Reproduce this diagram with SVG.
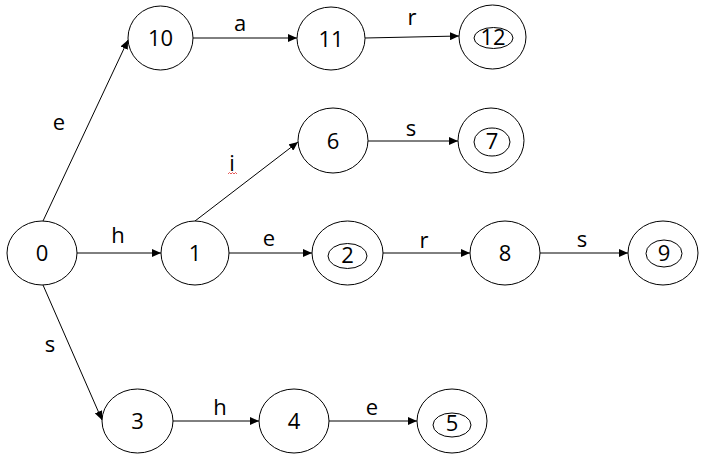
<svg xmlns="http://www.w3.org/2000/svg" width="712" height="466" viewBox="0 0 712 466">
<defs>
<marker id="arr" markerUnits="userSpaceOnUse" markerWidth="10" markerHeight="8" refX="9" refY="4" orient="auto">
<path d="M0,0 L9,4 L0,8 Z" fill="#000"/>
</marker>
<style>
.n ellipse{fill:#fff;stroke:#000;stroke-width:1}
.n text,.lbl{font-family:"Open Sans","Noto Sans",sans-serif;font-size:22px;fill:#000;text-anchor:middle}
#edges line{stroke:#000;stroke-width:1;marker-end:url(#arr)}
</style>
</defs>
<rect width="712" height="466" fill="#fff"/>
<g id="edges">
<line x1="43" y1="221" x2="128" y2="40"/>
<line x1="77" y1="253" x2="161" y2="253"/>
<line x1="43" y1="285" x2="102" y2="420"/>
<line x1="195" y1="221" x2="298" y2="142"/>
<line x1="229" y1="253" x2="312" y2="253"/>
<line x1="193" y1="38" x2="297" y2="38"/>
<line x1="365" y1="38" x2="459" y2="36"/>
<line x1="368" y1="141" x2="458" y2="141"/>
<line x1="383" y1="253" x2="470" y2="253"/>
<line x1="540" y1="253" x2="628" y2="253"/>
<line x1="173" y1="421" x2="259" y2="421"/>
<line x1="329" y1="421" x2="417" y2="421"/>
<text class="lbl" x="59" y="130">e</text>
<text class="lbl" x="240" y="31">a</text>
<text class="lbl" x="412" y="25">r</text>
<text class="lbl" x="411" y="136">s</text>
<text class="lbl" x="232" y="171">i</text>
<path d="M228,174 l1.5,-1.5 l1.5,1.5 l1.5,-1.5 l1.5,1.5 l1.5,-1.5 l1.5,1.5" fill="none" stroke="#e03030" stroke-width="0.8"/>
<text class="lbl" x="118" y="243">h</text>
<text class="lbl" x="269" y="246">e</text>
<text class="lbl" x="424" y="248">r</text>
<text class="lbl" x="582" y="247">s</text>
<text class="lbl" x="50" y="352">s</text>
<text class="lbl" x="220" y="415">h</text>
<text class="lbl" x="372" y="415">e</text>
</g>
<g id="n0" class="n"><ellipse cx="42" cy="253" rx="35" ry="32"/><text x="42" y="261">0</text></g>
<g id="n1" class="n"><ellipse cx="195" cy="253" rx="34" ry="32"/><text x="195" y="261">1</text></g>
<g id="n2" class="n"><ellipse cx="347.5" cy="253" rx="35.5" ry="32"/><ellipse cx="347.5" cy="256" rx="19.5" ry="12.5"/><text x="347.5" y="263">2</text></g>
<g id="n3" class="n"><ellipse cx="137.5" cy="421" rx="35.5" ry="32"/><text x="137.5" y="429">3</text></g>
<g id="n4" class="n"><ellipse cx="294" cy="421" rx="35" ry="32"/><text x="294" y="429">4</text></g>
<g id="n5" class="n"><ellipse cx="452" cy="421" rx="35" ry="32"/><ellipse cx="452" cy="425" rx="19" ry="12"/><text x="452" y="431">5</text></g>
<g id="n6" class="n"><ellipse cx="333" cy="140.5" rx="35" ry="32.5"/><text x="333" y="149">6</text></g>
<g id="n7" class="n"><ellipse cx="491" cy="140.5" rx="33" ry="32.5"/><ellipse cx="492" cy="142" rx="18" ry="14"/><text x="492" y="149">7</text></g>
<g id="n8" class="n"><ellipse cx="505" cy="253" rx="35" ry="32"/><text x="505" y="261">8</text></g>
<g id="n9" class="n"><ellipse cx="663" cy="253" rx="35" ry="32"/><ellipse cx="664" cy="253.5" rx="18" ry="13.5"/><text x="664" y="261">9</text></g>
<g id="n10" class="n"><ellipse cx="160.5" cy="38" rx="32.5" ry="32"/><text x="160.5" y="46">10</text></g>
<g id="n11" class="n"><ellipse cx="331" cy="38.5" rx="34" ry="31.5"/><text x="331" y="47">11</text></g>
<g id="n12" class="n"><ellipse cx="492.5" cy="37" rx="33.5" ry="32"/><ellipse cx="493.5" cy="38" rx="19.5" ry="10.5"/><text x="493" y="45">12</text></g>
</svg>
